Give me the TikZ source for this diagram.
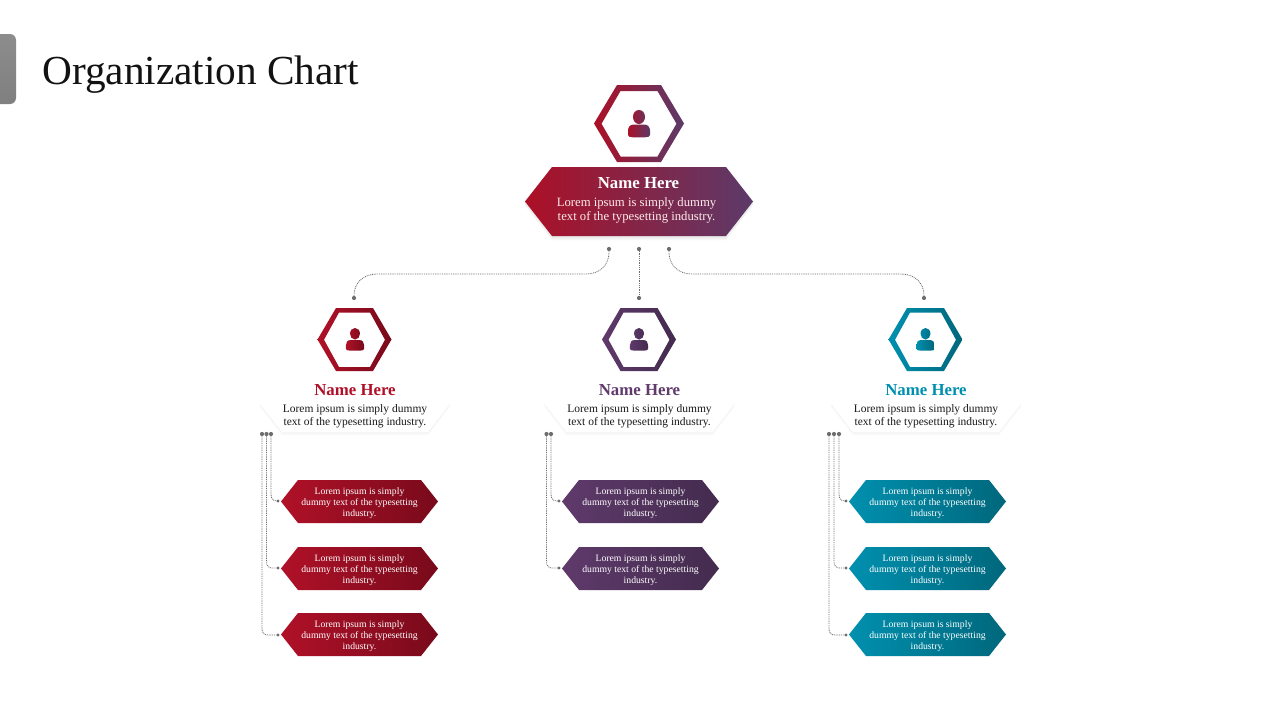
\documentclass[tikz,border=0pt]{standalone}
\usepackage{fontspec}
\setmainfont{Liberation Serif}
\definecolor{redA}{HTML}{B01128}
\definecolor{redB}{HTML}{780A1B}
\definecolor{purA}{HTML}{5F3A6B}
\definecolor{purB}{HTML}{432B4E}
\definecolor{tealA}{HTML}{0090AF}
\definecolor{tealB}{HTML}{00677C}
\definecolor{topA}{HTML}{AC1026}
\definecolor{topB}{HTML}{5C3A69}
\definecolor{connC}{HTML}{6E6E6E}
\tikzset{
  dotn/.style={circle,fill=connC,inner sep=0pt,minimum size=4.2pt},
  dotsm/.style={circle,fill=connC,inner sep=0pt,minimum size=3.4pt},
  conn/.style={draw=connC,line width=.8pt,dash pattern=on .9pt off .9pt},
  nametxt/.style={font=\fontsize{16.8}{18}\bfseries\selectfont,inner sep=0pt,anchor=center},
  bodytxt/.style={font=\fontsize{11.5}{13}\selectfont,inner sep=0pt,align=center,text=black!90},
  toptxt/.style={font=\fontsize{12.7}{14}\selectfont,inner sep=0pt,align=center,text=white!92!red},
  smalltxt/.style={font=\fontsize{9.7}{11}\selectfont,inner sep=0pt,align=center,text=white},
}
% hexagon outline: #1 left, #2 top-left x, #3 top-right x, #4 right, #5 top, #6 bottom
\newcommand{\hexp}[6]{(#1,{(#5+#6)/2}) -- (#2,#5) -- (#3,#5) -- (#4,{(#5+#6)/2}) -- (#3,#6) -- (#2,#6) -- cycle}
% person icon: centre x, top y, scale, colours
\newcommand{\persn}[5]{%
  \begin{scope}[shift={(#1,#2)},scale=#3]
    \path[left color=#4,right color=#5]
      (0,0) .. controls (3.6,0) and (6,3) .. (6,7) .. controls (6,10.5) and (3.6,14) .. (0,14)
      .. controls (-3.6,14) and (-6,10.5) .. (-6,7) .. controls (-6,3) and (-3.6,0) .. (0,0) -- cycle
      (-5,14.5) -- (5,14.5) .. controls (9.5,14.5) and (11,17.5) .. (11,21) -- (11,25)
      .. controls (11,26.5) and (9,27.3) .. (6,27.3) -- (-6,27.3)
      .. controls (-9,27.3) and (-11,26.5) .. (-11,25) -- (-11,21)
      .. controls (-11,17.5) and (-9.5,14.5) .. (-5,14.5) -- cycle;
  \end{scope}}
% small hexagon with text: name, left x, top y, colours
\newcommand{\smallhex}[5]{%
  \path[left color=#4,right color=#5]
    \hexp{#2}{#2+17}{#2+140}{#2+157}{#3}{#3+43};
  \node[smalltxt] (#1) at (#2+78.5,#3+23) {Lorem ipsum is simply\\dummy text of the typesetting\\industry.};}
% medium ring: centre x, colours
\newcommand{\midring}[3]{%
  \path[left color=#2,right color=#3,even odd rule]
    \hexp{#1-37}{#1-18.5}{#1+18.5}{#1+37}{308}{371}
    \hexp{#1-30.5}{#1-15.5}{#1+15.5}{#1+30.5}{312.5}{367};}
% white banner: name prefix, centre x, name colour
\newcommand{\whitebanner}[3]{%
  \foreach \o/\c in {3/2,2/3,1/4}{
    \path[fill=black!\c!white] \hexp{#2-95}{#2-73}{#2+73}{#2+95}{375+\o}{432+\o};}
  \path[fill=white] \hexp{#2-95}{#2-73}{#2+73}{#2+95}{375}{432};
  \node[nametxt,text=#3] (#1n) at (#2,390) {Name Here};
  \node[bodytxt] (#1b) at (#2,416) {Lorem ipsum is simply dummy\\text of the typesetting industry.};}
\begin{document}
\begin{tikzpicture}[x=1pt,y=-1pt]
\useasboundingbox (0,0) rectangle (1280,720);
\path[fill=white] (0,0) rectangle (1280,720);
% tab
\path[top color=black!45,bottom color=black!50,rounded corners=6pt] (-10,34) -- (16,34) -- (16,104) -- (-10,104) -- cycle;
\node[font=\fontsize{41.3}{44}\selectfont,inner sep=0pt,anchor=base west,text=black!93] (title) at (42,84) {Organization Chart};
% top
\path[left color=topA,right color=topB,even odd rule]
  \hexp{594}{617}{661}{684}{85}{162}
  \hexp{601.5}{620.5}{657.5}{676.5}{91}{156.5};
\persn{639}{110}{1}{topA}{topB}
\foreach \o/\c in {4/3,3/5,2/7,1/9}{
  \path[fill=black!\c!white] \hexp{525}{552}{726}{753}{167+\o}{236+\o};}
\path[left color=topA,right color=topB] \hexp{525}{552}{726}{753}{167}{236};
\node[nametxt,text=white] (topn) at (638.5,183) {Name Here};
\node[toptxt] (topb) at (636.5,210.5) {Lorem ipsum is simply dummy\\text of the typesetting industry.};
% top connectors
\node[dotn] (t1) at (609,249) {};
\node[dotn] (t2) at (639,249) {};
\node[dotn] (t3) at (669,249) {};
\node[dotn] (e1) at (354,298) {};
\node[dotn] (e2) at (639,298) {};
\node[dotn] (e3) at (924,298) {};
\draw[conn] (t1.center) -- (609,252) .. controls (609,265) and (600,274) .. (586,274) -- (377,274) .. controls (363,274) and (354,283) .. (354,296) -- (e1.center);
\draw[conn] (t2.center) -- (e2.center);
\draw[conn] (t3.center) -- (669,252) .. controls (669,265) and (678,274) .. (692,274) -- (901,274) .. controls (915,274) and (924,283) .. (924,296) -- (e3.center);
% three columns
\midring{354.5}{redA}{redB}
\persn{355}{328}{.83}{redA}{redB}
\whitebanner{a}{355}{redA}
\midring{639}{purA}{purB}
\persn{639}{328}{.83}{purA}{purB}
\whitebanner{b}{639.5}{purA}
\midring{925.5}{tealA}{tealB}
\persn{925.5}{328}{.83}{tealA}{tealB}
\whitebanner{c}{926}{tealA}
% small hexes
\smallhex{a1}{281}{480}{redA}{redB}
\smallhex{a2}{281}{547}{redA}{redB}
\smallhex{a3}{281}{613}{redA}{redB}
\smallhex{b1}{562}{480}{purA}{purB}
\smallhex{b2}{562}{547}{purA}{purB}
\smallhex{c1}{849}{480}{tealA}{tealB}
\smallhex{c2}{849}{547}{tealA}{tealB}
\smallhex{c3}{849}{613}{tealA}{tealB}
% column connectors
\foreach \n/\x/\y/\ex in {a1/271/501/278,a2/266.5/568/278,a3/262/635/278,b1/551/501/559,b2/546.5/568/559,c1/839/501/846,c2/834/568/846,c3/829/635/846}{
  \node[dotn] (s\n) at (\x,434) {};
  \node[dotsm] (d\n) at (\ex,\y) {};
  \draw[conn] (s\n.center) -- (\x,\y-7) .. controls (\x,\y-2) and (\x+2,\y) .. (\x+6,\y) -- (d\n.center);
}
\end{tikzpicture}
\end{document}
